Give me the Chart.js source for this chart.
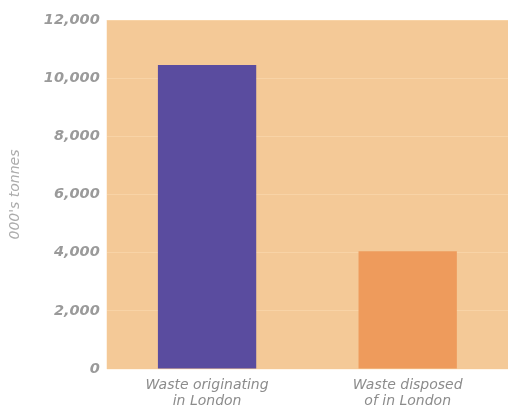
<!DOCTYPE html>
<html>
<head>
<meta charset="utf-8">
<script src="https://cdn.jsdelivr.net/npm/chart.js@4/dist/chart.umd.min.js"></script>
<style>
  html, body { margin: 0; padding: 0; background: #ffffff; }
  #wrap { width: 509px; height: 414px; }
</style>
</head>
<body>
<div id="wrap"><canvas id="c" width="509" height="414"></canvas></div>
<script>
const categories = [["Waste originating", "in London"], ["Waste disposed", "of in London"]];
const tonnes = [10450, 4050];
const barColors = ["#5a4c9f", "#ee9b5c"];
const yTicks = [0, 2000, 4000, 6000, 8000, 10000, 12000];

// paints the peach plot background behind the bars
const plotBackground = {
  id: "plotBackground",
  beforeDraw(chart) {
    const { ctx, chartArea: a } = chart;
    ctx.save();
    ctx.fillStyle = "#f4c997";
    ctx.fillRect(a.left, a.top, a.right - a.left, a.bottom - a.top);
    ctx.restore();
  }
};

new Chart(document.getElementById("c"), {
  type: "bar",
  data: {
    labels: categories,
    datasets: [{
      data: tonnes,
      backgroundColor: barColors,
      borderWidth: 0,
      categoryPercentage: 1,
      barPercentage: 0.49
    }]
  },
  options: {
    responsive: false,
    animation: false,
    layout: { padding: { top: 20, right: 1, left: 7, bottom: 0 } },
    plugins: { legend: { display: false }, tooltip: { enabled: false } },
    scales: {
      x: {
        grid: { display: false, drawTicks: false },
        border: { display: false },
        afterFit(scale) { scale.height = 45; },
        ticks: {
          color: "#8c8c8c",
          padding: 9,
          font: { family: "DejaVu Sans", style: "italic", size: 14, lineHeight: 1.1 }
        }
      },
      y: {
        min: 0,
        max: 12000,
        afterBuildTicks(scale) { scale.ticks = yTicks.map(v => ({ value: v })); },
        grid: { color: "rgba(255,230,195,0.35)", lineWidth: 1, drawTicks: false },
        border: { display: false },
        ticks: {
          color: "#9a9a9a",
          padding: 7,
          font: { family: "DejaVu Sans", style: "italic", size: 14.5, weight: "bold" },
          callback: v => v.toLocaleString("en-US")
        },
        title: {
          display: true,
          text: "000's tonnes",
          color: "#acacac",
          padding: { top: 0, bottom: 13 },
          font: { family: "DejaVu Sans", style: "italic", size: 14 }
        }
      }
    }
  },
  plugins: [plotBackground]
});
</script>
</body>
</html>
